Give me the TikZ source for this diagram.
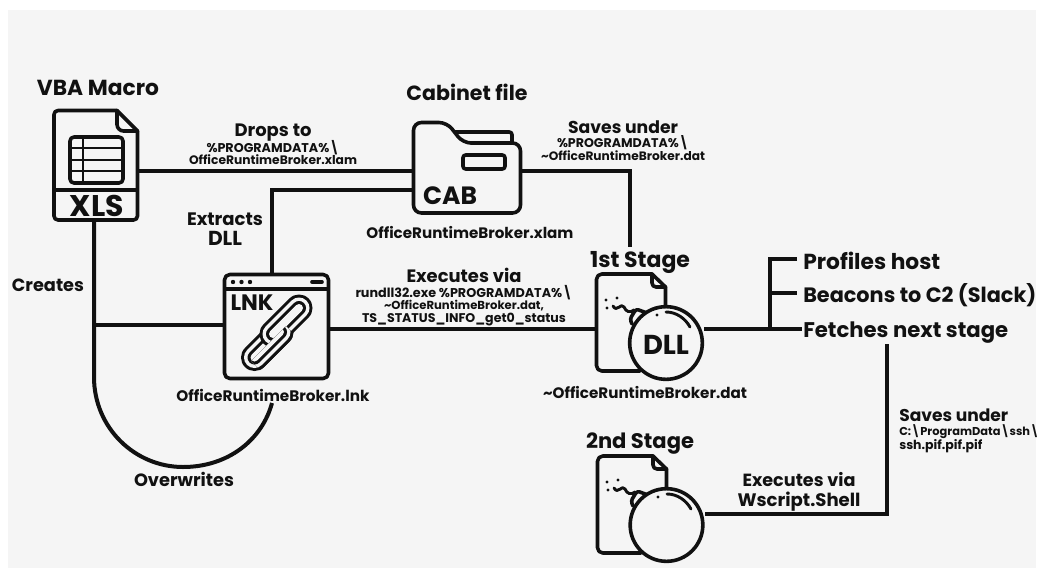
\documentclass[tikz,border=0pt]{standalone}
\usepackage{fontspec}
\setmainfont{Poppins}
\definecolor{bgc}{HTML}{F5F5F5}
\definecolor{ink}{HTML}{111111}
\newlength{\pxu}\setlength{\pxu}{0.75pt}
\newcommand{\fitw}[2]{\raisebox{0pt}[\height][0pt]{\resizebox{#1\pxu}{!}{\bfseries #2}}}
\tikzset{
  x=0.75pt,y=-0.75pt,
  wire/.style={draw=ink,line width=3pt,line cap=butt,line join=miter},
  iconline/.style={draw=ink,line width=2.7pt,line join=round,line cap=round},
  thinicon/.style={draw=ink,line width=2.2pt,line join=round,line cap=round},
  lbl/.style={inner sep=0pt,text=ink,anchor=center},
  lbll/.style={inner sep=0pt,text=ink,anchor=west},
  bomb/.style={circle,draw=ink,line width=2.7pt,fill=bgc,minimum size=54.5pt,inner sep=0},
  chainlower/.pic={
    \foreach \w/\c in {27/ink,21/bgc,14/ink,8/bgc}{
      \draw[line width=\w*0.75pt,color=\c,line cap=round] (254.5,357.5) -- (280,332);}
  },
  chainupper/.pic={
    \foreach \w/\c in {27/ink,21/bgc,14/ink,8/bgc}{
      \draw[line width=\w*0.75pt,color=\c,line cap=round] (299,308) -- (273,334);}
  },
}
\begin{document}
\begin{tikzpicture}
\useasboundingbox (0,0) rectangle (1039,568);
\fill[white] (0,0) rectangle (1039,568);
\fill[bgc] (8,10) rectangle (1036,568);
\coordinate (tcorner) at (630,171);
\coordinate (scorner) at (887,514);
\coordinate (scap) at (887,344);
\coordinate (exttop) at (272,190);
\coordinate (branch) at (770,329);
\coordinate (btop) at (770,259);
\coordinate (bmid) at (770,293);
\coordinate (ptip) at (797,259);
\coordinate (mtip) at (797,293);
\coordinate (ftip) at (802,329);
\coordinate (arcend) at (272,403);
\coordinate (junction) at (94,325);
\coordinate (arcstart) at (94,377);
% XLS
\node[inner sep=0,minimum width=63.75pt,minimum height=83.25pt] (xls) at (96.5,165.5) {};
\draw[iconline,rounded corners=3pt] (117,110.5) -- (54,110.5) -- (54,220) -- (137.5,220) -- (137.5,131);
\draw[iconline] (117,110.5) -- (137.5,131);
\draw[iconline,rounded corners=5pt] (117,110.5) -- (117,131) -- (137.5,131);
\draw[iconline,line cap=butt] (54,190) -- (137.5,190);
\draw[iconline,rounded corners=3pt] (70,137) rectangle (123,183);
\draw[iconline,line width=2.2pt,line cap=butt] (83,137) -- (83,183) (70,148) -- (123,148) (70,160) -- (123,160) (70,171) -- (123,171);
\node[lbl] (xlstxt) at (97,206) {\fitw{54}{XLS}};
% Cabinet folder
\node[inner sep=0,minimum width=81pt,minimum height=69pt] (cab) at (467,168) {};
\draw[iconline,rounded corners=6pt,fill=bgc] (413.5,213) -- (413.5,122.5) -- (447,122.5) -- (463,143) -- (520.5,143) -- (520.5,213) -- cycle;
\draw[iconline,rounded corners=2pt] (455,132) -- (512,132) -- (512,143);
\draw[iconline,rounded corners=2pt] (463,155) rectangle (505,169);
\node[lbl] (cabtxt) at (450,196) {\fitw{54}{CAB}};
% LNK window
\node[inner sep=0,minimum width=79pt,minimum height=79pt] (lnk) at (276.5,326.5) {};
\draw[iconline,rounded corners=4pt] (224.5,274.5) rectangle (328.5,378.5);
\draw[iconline,line cap=butt] (224.5,289) -- (328.5,289);
\fill[ink] (233,282) circle[radius=2.2] (241.5,282) circle[radius=2.2] (250,282) circle[radius=2.2];
\draw[iconline] (312,282) -- (322,282);
\node[lbl] (lnktxt) at (252,303) {\fitw{43}{LNK}};
\pic {chainlower};
\pic {chainupper};
\begin{scope}
\clip (286,326) -- (305,345) -- (270,380) -- (251,361) -- cycle;
\pic {chainlower};
\end{scope}
% 1st stage
\node[inner sep=0,minimum width=52pt,minimum height=74pt] (dll) at (631,323) {};
\draw[iconline,rounded corners=4pt] (652,274) -- (596.5,274) -- (596.5,371) -- (640,371);
\draw[iconline] (652,274) -- (665.5,287) -- (665.5,310);
\draw[iconline,rounded corners=3pt] (652,274) -- (652,287) -- (665.5,287);
\draw[thinicon] (613,306) .. controls (617,313) and (621,302) .. (624,307) .. controls (626,312) and (630,313) .. (634,310);
\fill[ink] (606,300) circle[radius=1.7] (617,298) circle[radius=1.7] (607,308) circle[radius=1.7];
\draw[iconline,rounded corners=2pt] (632,324) -- (630,319) -- (636,309) -- (647,313);
\node[bomb] (ball) at (666,343) {};
\draw[thinicon] (666,312) .. controls (676,312) and (685,318) .. (690,327);
\fill[ink] (657,315) circle[radius=1.7];
\node[lbl] (dlltxt) at (666,345) {\fitw{46}{DLL}};
% 2nd stage
\node[inner sep=0,minimum width=52pt,minimum height=74pt] (doc2) at (632,505) {};
\draw[iconline,rounded corners=4pt] (653,456) -- (597.5,456) -- (597.5,553) -- (641,553);
\draw[iconline] (653,456) -- (666.5,469) -- (666.5,492);
\draw[iconline,rounded corners=3pt] (653,456) -- (653,469) -- (666.5,469);
\draw[thinicon] (614,488) .. controls (618,495) and (622,484) .. (625,489) .. controls (627,494) and (631,495) .. (635,492);
\fill[ink] (607,482) circle[radius=1.7] (618,480) circle[radius=1.7] (608,490) circle[radius=1.7];
\draw[iconline,rounded corners=2pt] (633,506) -- (631,501) -- (637,491) -- (648,495);
\node[bomb] (ball2) at (666.5,525) {};
\draw[thinicon] (667,494) .. controls (677,494) and (686,500) .. (691,509);
\fill[ink] (658,497) circle[radius=1.7];
% connectors
\draw[wire] (xls.east |- 0,171) -- (cab.west |- 0,171);
\draw[wire] (cab.west |- 0,190) -- (exttop) -- (exttop |- lnk.north);
\draw[wire] (cab.east |- tcorner) -- (tcorner) -- ++(0,76);
\draw[wire] (xlstxt |- xls.south) ++(-3,0) -- (arcstart) .. controls (94,428) and (135,467) .. (183,467) .. controls (228,467) and (262,440) .. (arcend);
\draw[wire] (junction) -- (lnk.west |- junction);
\draw[wire] (lnk.east |- 0,329) -- (dll.west |- 0,329);
\draw[wire] (ball.east |- 0,329) -- (ftip);
\draw[wire] (ptip) -- (btop) -- (branch);
\draw[wire] (bmid) -- (mtip);
\draw[wire] (scap) -- (scorner) -- (ball2.east |- scorner);
% labels
\node[lbl] (t1) at (98,88) {\fitw{122}{VBA Macro}};
\node[lbl] (t2) at (467,92) {\fitw{121}{Cabinet file}};
\node[lbl] (t3) at (273,130) {\fitw{77}{Drops to}};
\node[lbl] (t4) at (273,146) {\fitw{133}{\%PROGRAMDATA\%\textbackslash}};
\node[lbl] (t5) at (273,160) {\fitw{168}{OfficeRuntimeBroker.xlam}};
\node[lbl] (t6) at (623,127) {\fitw{110}{Saves under}};
\node[lbl] (t7) at (623,142) {\fitw{132}{\%PROGRAMDATA\%\textbackslash}};
\node[lbl] (t8) at (623,156) {\fitw{164}{\textasciitilde OfficeRuntimeBroker.dat}};
\node[lbl] (t9) at (470,232) {\fitw{207}{OfficeRuntimeBroker.xlam}};
\node[lbl] (t10) at (225,219) {\fitw{76}{Extracts}};
\node[lbl] (t11) at (225,238) {\fitw{34}{DLL}};
\node[lbl] (t12) at (48,285) {\fitw{72}{Creates}};
\node[lbl] (t13) at (273,395) {\fitw{193}{OfficeRuntimeBroker.lnk}};
\node[lbl] (t14) at (184,479) {\fitw{100}{Overwrites}};
\node[lbl] (t15) at (464,275) {\fitw{115}{Executes via}};
\node[lbl] (t16) at (464,291) {\fitw{217}{rundll32.exe \%PROGRAMDATA\%\textbackslash}};
\node[lbl] (t17) at (464,305) {\fitw{160}{\textasciitilde OfficeRuntimeBroker.dat,}};
\node[lbl] (t18) at (464,318) {\fitw{204}{TS\_STATUS\_INFO\_get0\_status}};
\node[lbl] (t19) at (640,259) {\fitw{100}{1st Stage}};
\node[lbl] (t20) at (645,392) {\fitw{204}{\textasciitilde OfficeRuntimeBroker.dat}};
\node[lbll] (t21) at (803,261) {\fitw{137}{Profiles host}};
\node[lbll] (t22) at (803,293) {\fitw{233}{Beacons to C2 (Slack)}};
\node[lbll] (t23) at (803,330) {\fitw{205}{Fetches next stage}};
\node[lbll] (t24) at (899,415) {\fitw{109}{Saves under}};
\node[lbll] (t25) at (899,430) {\fitw{140}{C:\textbackslash ProgramData\textbackslash ssh\textbackslash}};
\node[lbll] (t26) at (899,444) {\fitw{83}{ssh.pif.pif.pif}};
\node[lbl] (t27) at (799,479) {\fitw{113}{Executes via}};
\node[lbl] (t28) at (799,499) {\fitw{123}{Wscript.Shell}};
\node[lbl] (t29) at (640,441) {\fitw{108}{2nd Stage}};
\end{tikzpicture}
\end{document}
